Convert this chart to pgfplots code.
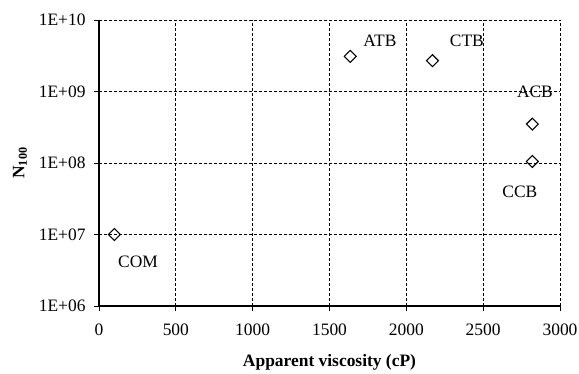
\documentclass[border=0pt]{standalone}
\usepackage{fontspec}
\setmainfont{Liberation Serif}
\usepackage{pgfplots}
\pgfplotsset{compat=1.18}
\newcommand\fs{\fontsize{17.5}{20}\selectfont}
\begin{document}
\begin{tikzpicture}
\path[use as bounding box] (-99bp,-68bp) rectangle (480bp,306bp);
\begin{axis}[
  at={(0,0)}, anchor=south west,
  scale only axis, width=461bp, height=286bp,
  xmin=0, xmax=3000, ymin=1e6, ymax=1e10,
  ymode=log, yminorticks=false,
  xtick={0,500,1000,1500,2000,2500,3000},
  xticklabels={0,500,1000,1500,2000,2500,3000},
  ytick={1e6,1e7,1e8,1e9,1e10},
  yticklabels={1E+06,1E+07,1E+08,1E+09,1E+10},
  axis x line*=bottom, axis y line*=left,
  axis line style={-, line width=1.5bp, black},
  tick align=outside, major tick length=5bp,
  tick style={black, line width=0.8bp},
  grid=major,
  major grid style={black, dash pattern=on 3bp off 2bp, line width=0.7bp},
  tick label style={font=\fs},
  xticklabel style={anchor=north, yshift=-9bp},
  yticklabel style={anchor=east, xshift=-5bp},
  xlabel={\textbf{Apparent viscosity (cP)}},
  ylabel={\textbf{N\textsubscript{100}}},
  label style={font=\fs},
  x label style={at={(axis description cs:0.5,-0.196)}, anchor=center},
  y label style={at={(axis description cs:-0.1714,0.5)}, anchor=center, rotate=0},
  clip=false,
]
\addplot[only marks, mark=square, mark size=4.2bp, mark options={rotate=45, line width=1.1bp, fill=white, draw=black}]
  coordinates {(100,1e7) (1635,3.1e9) (2170,2.7e9) (2820,3.5e8) (2820,1.05e8)};
\node[font=\fs] at (axis cs:254,4.1e6) {COM};
\node[font=\fs] at (axis cs:1828,5.1e9) {ATB};
\node[font=\fs] at (axis cs:2394,5.1e9) {CTB};
\node[font=\fs] at (axis cs:2837,1e9) {ACB};
\node[font=\fs] at (axis cs:2739,4e7) {CCB};
\end{axis}
\end{tikzpicture}
\end{document}
